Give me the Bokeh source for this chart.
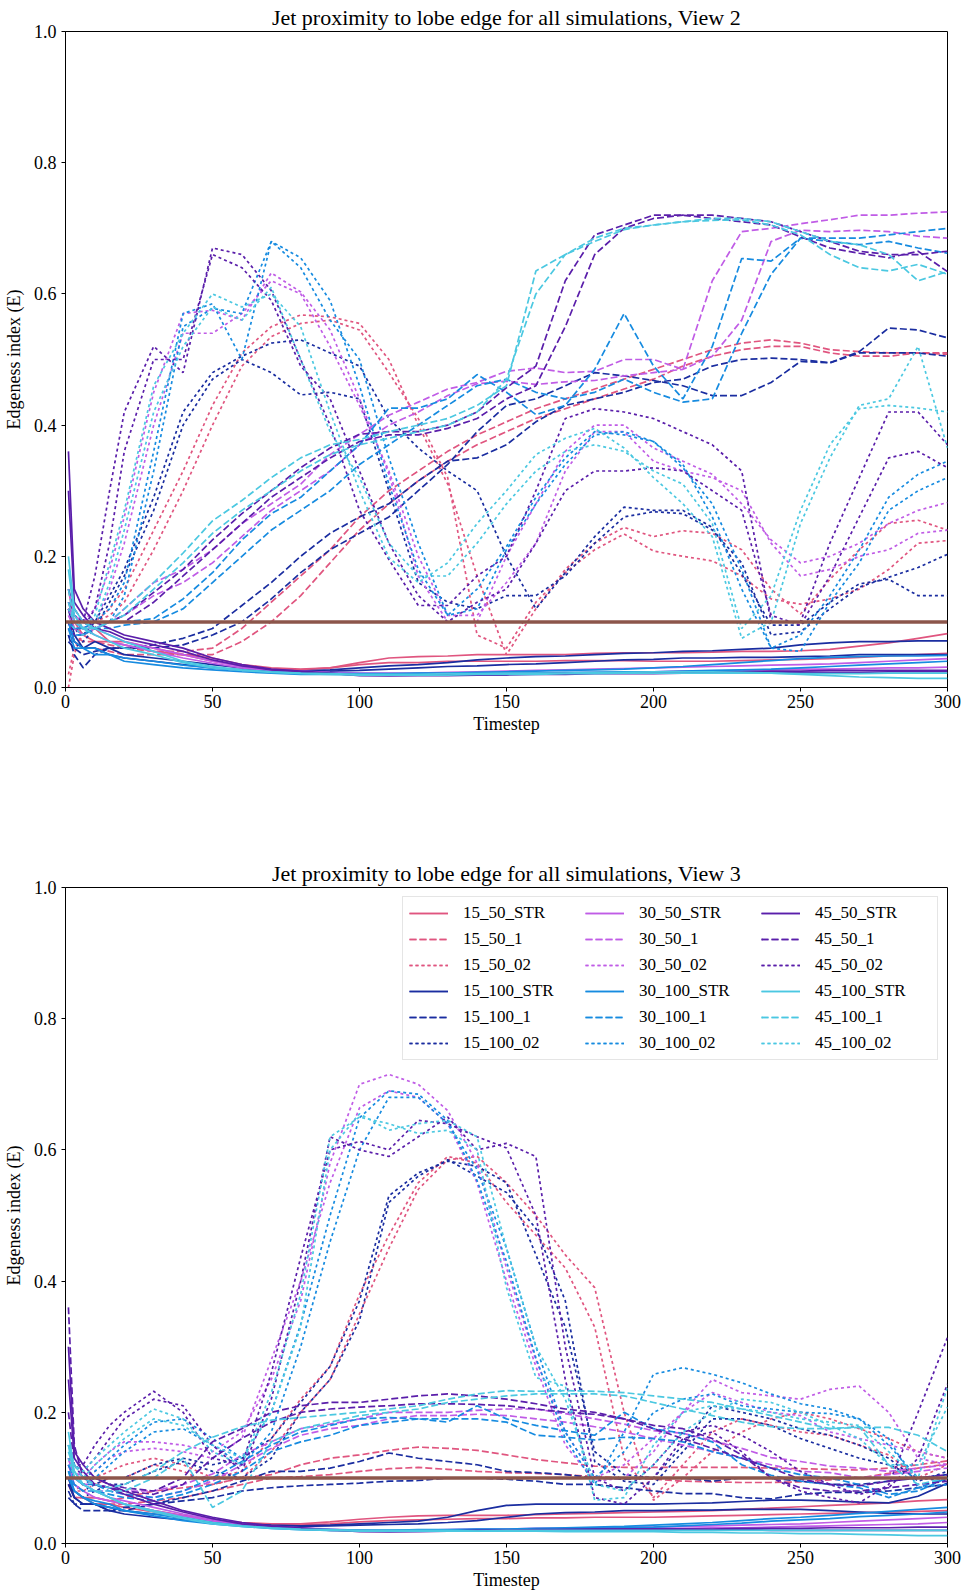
from bokeh.plotting import figure
from bokeh.layouts import column
from bokeh.models import Range1d, FixedTicker, PrintfTickFormatter, Span, Legend, LegendItem
from bokeh.embed import file_html
from bokeh.resources import INLINE

# ---------------- data ----------------
T = [1, 3, 6, 10, 15, 20,
     30, 40, 50, 60, 70, 80, 90, 100,
     110, 120, 130, 140, 150, 160, 170, 180, 190, 200,
     210, 220, 230, 240, 250, 260, 270, 280, 290, 300]

X_TICKS = [0, 50, 100, 150, 200, 250, 300]
Y_TICKS = [0.0, 0.2, 0.4, 0.6, 0.8, 1.0]
THRESHOLD = 0.1

TITLES = ["Jet proximity to lobe edge for all simulations, View 2",
          "Jet proximity to lobe edge for all simulations, View 3"]
X_LABEL = "Timestep"
Y_LABEL = "Edgeness index (E)"

SIMS = ["15_50", "15_100", "30_50", "30_100", "45_50", "45_100"]
VARIANTS = ["STR", "1", "02"]

# ----- View 2 (two jets per simulation: A and B) -----
V2_15_50_STR_A = [0.15,0.10,0.08,0.09,0.07,0.07, 0.06,0.05,0.045,0.035,0.03,0.028,0.03,0.038, 0.045,0.047,0.048,0.05,0.05,0.05,0.05,0.052,0.053,0.053, 0.053,0.054,0.055,0.055,0.056,0.058,0.063,0.068,0.075,0.082]
V2_15_50_STR_B = [0.12,0.09,0.08,0.07,0.07,0.065, 0.055,0.05,0.04,0.033,0.028,0.027,0.03,0.035, 0.038,0.038,0.04,0.04,0.04,0.04,0.041,0.041,0.041,0.04, 0.04,0.04,0.041,0.042,0.043,0.044,0.046,0.048,0.05,0.052]
V2_15_50_1_A = [0.1,0.08,0.07,0.07,0.065,0.06, 0.055,0.055,0.06,0.09,0.13,0.17,0.21,0.26, 0.3,0.33,0.36,0.385,0.405,0.425,0.44,0.455,0.47,0.485, 0.5,0.515,0.525,0.53,0.525,0.515,0.512,0.51,0.51,0.508]
V2_15_50_1_B = [0.09,0.07,0.06,0.06,0.055,0.05, 0.05,0.05,0.05,0.07,0.1,0.14,0.19,0.24, 0.28,0.315,0.345,0.37,0.39,0.41,0.425,0.44,0.455,0.47, 0.49,0.505,0.515,0.52,0.52,0.51,0.505,0.505,0.51,0.51]
V2_15_50_02_A = [0.0,0.05,0.09,0.1,0.12,0.15, 0.24,0.33,0.43,0.51,0.55,0.568,0.565,0.555, 0.5,0.4,0.31,0.17,0.05,0.12,0.18,0.22,0.244,0.23, 0.239,0.235,0.21,0.15,0.112,0.165,0.21,0.25,0.255,0.24]
V2_15_50_02_B = [0.02,0.06,0.08,0.1,0.11,0.13, 0.21,0.3,0.4,0.49,0.535,0.555,0.56,0.545, 0.48,0.41,0.32,0.08,0.06,0.13,0.175,0.21,0.234,0.208, 0.2,0.193,0.17,0.135,0.127,0.135,0.15,0.18,0.22,0.224]
V2_15_100_STR_A = [0.12,0.08,0.06,0.07,0.06,0.05, 0.045,0.04,0.035,0.03,0.027,0.025,0.027,0.03, 0.033,0.035,0.038,0.042,0.045,0.047,0.048,0.05,0.052,0.053, 0.055,0.056,0.058,0.06,0.065,0.068,0.07,0.07,0.071,0.071]
V2_15_100_STR_B = [0.1,0.07,0.06,0.06,0.05,0.045, 0.04,0.035,0.03,0.027,0.025,0.024,0.025,0.026, 0.028,0.03,0.032,0.033,0.035,0.036,0.038,0.04,0.042,0.043, 0.045,0.045,0.046,0.046,0.047,0.048,0.05,0.05,0.05,0.05]
V2_15_100_1_A = [0.08,0.05,0.03,0.05,0.06,0.06, 0.065,0.075,0.09,0.125,0.16,0.2,0.235,0.26, 0.28,0.315,0.345,0.35,0.37,0.405,0.43,0.44,0.45,0.465, 0.47,0.49,0.5,0.502,0.5,0.495,0.512,0.548,0.545,0.533]
V2_15_100_1_B = [0.07,0.06,0.05,0.055,0.06,0.06, 0.06,0.065,0.08,0.1,0.135,0.175,0.21,0.235, 0.26,0.3,0.34,0.39,0.43,0.44,0.46,0.48,0.475,0.468, 0.46,0.445,0.445,0.465,0.497,0.495,0.51,0.51,0.51,0.505]
V2_15_100_02_A = [0.1,0.08,0.08,0.1,0.14,0.18, 0.29,0.42,0.48,0.505,0.525,0.53,0.51,0.49, 0.41,0.365,0.33,0.3,0.2,0.12,0.175,0.23,0.275,0.27, 0.27,0.244,0.173,0.095,0.095,0.13,0.158,0.165,0.14,0.14]
V2_15_100_02_B = [0.08,0.06,0.07,0.09,0.13,0.17, 0.27,0.4,0.47,0.5,0.48,0.446,0.45,0.44, 0.3,0.16,0.13,0.12,0.14,0.14,0.17,0.22,0.26,0.268, 0.265,0.24,0.19,0.08,0.085,0.12,0.153,0.168,0.183,0.203]
V2_30_50_STR_A = [0.15,0.11,0.1,0.09,0.08,0.07, 0.06,0.05,0.04,0.032,0.027,0.025,0.023,0.022, 0.022,0.022,0.023,0.024,0.025,0.026,0.027,0.028,0.029,0.03, 0.031,0.032,0.033,0.034,0.035,0.036,0.038,0.04,0.042,0.044]
V2_30_50_STR_B = [0.13,0.1,0.09,0.08,0.07,0.065, 0.055,0.045,0.037,0.03,0.026,0.024,0.022,0.021, 0.021,0.02,0.02,0.021,0.022,0.022,0.022,0.023,0.024,0.024, 0.025,0.025,0.026,0.027,0.028,0.028,0.029,0.03,0.03,0.031]
V2_30_50_1_A = [0.12,0.1,0.09,0.09,0.1,0.12, 0.16,0.18,0.21,0.25,0.28,0.31,0.355,0.386, 0.415,0.435,0.455,0.465,0.482,0.487,0.48,0.482,0.5,0.5, 0.485,0.62,0.695,0.7,0.707,0.713,0.72,0.72,0.723,0.725]
V2_30_50_1_B = [0.11,0.09,0.08,0.09,0.1,0.11, 0.14,0.16,0.19,0.23,0.27,0.3,0.33,0.37, 0.4,0.42,0.445,0.463,0.467,0.462,0.466,0.468,0.475,0.48, 0.485,0.505,0.56,0.68,0.697,0.695,0.697,0.695,0.688,0.685]
V2_30_50_02_A = [0.12,0.1,0.1,0.12,0.18,0.26, 0.45,0.57,0.575,0.56,0.632,0.603,0.545,0.44, 0.325,0.17,0.1,0.1,0.2,0.28,0.36,0.4,0.4,0.365, 0.345,0.325,0.28,0.225,0.19,0.2,0.22,0.25,0.27,0.282]
V2_30_50_02_B = [0.1,0.09,0.09,0.1,0.15,0.22, 0.4,0.54,0.54,0.57,0.62,0.6,0.52,0.43, 0.33,0.2,0.11,0.11,0.16,0.22,0.33,0.39,0.39,0.345, 0.33,0.32,0.3,0.22,0.17,0.18,0.2,0.21,0.235,0.24]
V2_30_100_STR_A = [0.1,0.07,0.06,0.06,0.05,0.045, 0.04,0.034,0.03,0.026,0.024,0.022,0.021,0.021, 0.021,0.022,0.022,0.023,0.024,0.025,0.026,0.027,0.028,0.03, 0.032,0.035,0.038,0.041,0.044,0.046,0.047,0.048,0.048,0.049]
V2_30_100_STR_B = [0.09,0.06,0.06,0.05,0.05,0.04, 0.035,0.03,0.027,0.024,0.022,0.02,0.02,0.02, 0.02,0.021,0.021,0.022,0.022,0.022,0.023,0.023,0.024,0.024, 0.025,0.026,0.027,0.028,0.03,0.032,0.034,0.036,0.038,0.04]
V2_30_100_1_A = [0.1,0.09,0.09,0.1,0.1,0.1, 0.105,0.135,0.175,0.225,0.265,0.29,0.33,0.37, 0.426,0.426,0.44,0.477,0.45,0.416,0.43,0.485,0.57,0.49, 0.44,0.52,0.654,0.65,0.685,0.685,0.685,0.69,0.695,0.7]
V2_30_100_1_B = [0.09,0.08,0.08,0.09,0.09,0.095, 0.1,0.12,0.16,0.2,0.24,0.27,0.3,0.34, 0.37,0.4,0.43,0.46,0.47,0.45,0.44,0.45,0.47,0.45, 0.435,0.44,0.54,0.63,0.685,0.68,0.675,0.68,0.67,0.662]
V2_30_100_02_A = [0.1,0.09,0.09,0.1,0.12,0.16, 0.36,0.57,0.585,0.5,0.68,0.655,0.59,0.46, 0.31,0.18,0.11,0.15,0.215,0.29,0.35,0.39,0.385,0.375, 0.335,0.28,0.18,0.06,0.08,0.14,0.21,0.29,0.325,0.345]
V2_30_100_02_B = [0.09,0.08,0.08,0.09,0.1,0.14, 0.33,0.55,0.578,0.57,0.68,0.64,0.56,0.5, 0.35,0.22,0.11,0.12,0.21,0.28,0.34,0.385,0.39,0.375, 0.34,0.26,0.15,0.06,0.055,0.13,0.19,0.27,0.3,0.32]
V2_45_50_STR_A = [0.36,0.15,0.12,0.1,0.09,0.08, 0.07,0.06,0.045,0.035,0.028,0.025,0.022,0.018, 0.018,0.019,0.02,0.02,0.021,0.021,0.022,0.022,0.022,0.023, 0.023,0.024,0.024,0.025,0.025,0.026,0.026,0.026,0.026,0.026]
V2_45_50_STR_B = [0.3,0.13,0.11,0.09,0.085,0.075, 0.065,0.055,0.042,0.033,0.027,0.024,0.021,0.019, 0.018,0.018,0.018,0.019,0.019,0.02,0.02,0.021,0.021,0.021, 0.022,0.022,0.022,0.022,0.023,0.023,0.023,0.024,0.024,0.024]
V2_45_50_1_A = [0.15,0.12,0.1,0.1,0.1,0.11, 0.145,0.18,0.225,0.265,0.3,0.335,0.365,0.386, 0.39,0.39,0.4,0.42,0.457,0.49,0.62,0.69,0.705,0.72, 0.72,0.715,0.71,0.705,0.687,0.67,0.662,0.655,0.665,0.634]
V2_45_50_1_B = [0.13,0.11,0.1,0.1,0.1,0.1, 0.13,0.17,0.21,0.25,0.29,0.32,0.35,0.375, 0.385,0.385,0.395,0.41,0.44,0.46,0.55,0.66,0.7,0.715, 0.72,0.72,0.715,0.71,0.695,0.68,0.665,0.66,0.66,0.665]
V2_45_50_02_A = [0.1,0.08,0.1,0.17,0.3,0.42, 0.52,0.48,0.67,0.66,0.605,0.5,0.4,0.27, 0.195,0.125,0.125,0.17,0.2,0.3,0.41,0.425,0.42,0.41, 0.39,0.37,0.33,0.1,0.1,0.22,0.32,0.42,0.42,0.37]
V2_45_50_02_B = [0.12,0.1,0.09,0.12,0.22,0.36, 0.5,0.5,0.66,0.64,0.59,0.49,0.44,0.33, 0.22,0.14,0.1,0.13,0.15,0.22,0.3,0.33,0.33,0.335, 0.33,0.3,0.27,0.11,0.095,0.17,0.26,0.35,0.36,0.335]
V2_45_100_STR_A = [0.2,0.12,0.1,0.09,0.08,0.07, 0.055,0.04,0.032,0.027,0.024,0.022,0.021,0.02, 0.02,0.02,0.021,0.021,0.022,0.022,0.022,0.023,0.023,0.024, 0.024,0.024,0.023,0.022,0.02,0.018,0.016,0.015,0.014,0.014]
V2_45_100_STR_B = [0.18,0.11,0.09,0.08,0.07,0.06, 0.05,0.038,0.03,0.026,0.023,0.021,0.02,0.019, 0.019,0.019,0.019,0.02,0.02,0.02,0.021,0.021,0.022,0.022, 0.022,0.022,0.022,0.022,0.021,0.021,0.021,0.022,0.022,0.022]
V2_45_100_1_A = [0.15,0.1,0.09,0.09,0.1,0.12, 0.16,0.205,0.254,0.285,0.32,0.35,0.37,0.378, 0.39,0.4,0.41,0.43,0.46,0.635,0.66,0.68,0.698,0.705, 0.71,0.712,0.713,0.705,0.69,0.66,0.64,0.635,0.645,0.63]
V2_45_100_1_B = [0.13,0.1,0.09,0.09,0.1,0.11, 0.15,0.19,0.235,0.27,0.3,0.33,0.355,0.37, 0.38,0.39,0.4,0.42,0.47,0.6,0.66,0.685,0.7,0.705, 0.71,0.715,0.715,0.71,0.695,0.68,0.675,0.66,0.62,0.634]
V2_45_100_02_A = [0.12,0.1,0.09,0.11,0.19,0.27, 0.46,0.54,0.6,0.58,0.6,0.55,0.42,0.3, 0.198,0.16,0.19,0.25,0.3,0.355,0.38,0.395,0.365,0.32, 0.28,0.23,0.075,0.1,0.25,0.35,0.43,0.44,0.52,0.365]
V2_45_100_02_B = [0.1,0.09,0.08,0.1,0.16,0.24, 0.42,0.52,0.58,0.56,0.61,0.5,0.39,0.32, 0.22,0.17,0.17,0.22,0.28,0.33,0.36,0.37,0.36,0.33, 0.31,0.25,0.09,0.14,0.27,0.37,0.425,0.43,0.426,0.42]

# ----- View 3 -----
V3_15_50_STR_A = [0.1,0.08,0.07,0.07,0.065,0.06, 0.05,0.043,0.036,0.032,0.03,0.03,0.033,0.037, 0.04,0.042,0.043,0.043,0.043,0.044,0.045,0.046,0.047,0.048, 0.049,0.05,0.052,0.054,0.056,0.058,0.06,0.062,0.065,0.067]
V3_15_50_STR_B = [0.09,0.07,0.07,0.06,0.06,0.055, 0.048,0.04,0.034,0.03,0.028,0.028,0.03,0.033, 0.035,0.036,0.037,0.038,0.038,0.039,0.039,0.04,0.04,0.04, 0.041,0.042,0.043,0.044,0.045,0.046,0.047,0.048,0.049,0.05]
V3_15_50_1_A = [0.1,0.08,0.07,0.07,0.065,0.07, 0.08,0.085,0.09,0.1,0.105,0.12,0.13,0.135, 0.142,0.147,0.145,0.142,0.135,0.128,0.123,0.118,0.116,0.116, 0.116,0.116,0.116,0.115,0.114,0.113,0.112,0.115,0.12,0.126]
V3_15_50_1_B = [0.09,0.07,0.07,0.06,0.06,0.06, 0.065,0.07,0.08,0.09,0.1,0.102,0.105,0.11, 0.114,0.116,0.113,0.11,0.108,0.107,0.105,0.102,0.1,0.098, 0.095,0.094,0.093,0.093,0.094,0.097,0.1,0.107,0.115,0.121]
V3_15_50_02_A = [0.1,0.08,0.09,0.1,0.11,0.12, 0.13,0.12,0.1,0.11,0.16,0.22,0.27,0.38, 0.47,0.55,0.59,0.58,0.52,0.47,0.42,0.33,0.13,0.07, 0.12,0.17,0.19,0.18,0.17,0.165,0.15,0.135,0.1,0.12]
V3_15_50_02_B = [0.09,0.08,0.08,0.09,0.1,0.1, 0.12,0.11,0.09,0.1,0.14,0.2,0.25,0.35, 0.45,0.54,0.585,0.59,0.55,0.5,0.44,0.39,0.2,0.066, 0.1,0.14,0.17,0.19,0.2,0.19,0.175,0.16,0.14,0.13]
V3_15_100_STR_A = [0.1,0.07,0.06,0.06,0.055,0.05, 0.045,0.04,0.035,0.03,0.028,0.027,0.028,0.03, 0.032,0.034,0.04,0.05,0.058,0.06,0.06,0.06,0.06,0.06, 0.061,0.062,0.064,0.066,0.066,0.065,0.063,0.062,0.072,0.092]
V3_15_100_STR_B = [0.09,0.07,0.06,0.06,0.05,0.045, 0.04,0.036,0.032,0.028,0.026,0.026,0.027,0.028, 0.029,0.03,0.032,0.035,0.04,0.045,0.047,0.048,0.05,0.05, 0.051,0.051,0.052,0.052,0.052,0.05,0.048,0.046,0.045,0.045]
V3_15_100_1_A = [0.08,0.06,0.06,0.06,0.05,0.05, 0.06,0.065,0.07,0.08,0.085,0.088,0.09,0.092, 0.095,0.096,0.1,0.1,0.098,0.095,0.09,0.09,0.085,0.08, 0.076,0.076,0.07,0.068,0.075,0.078,0.078,0.08,0.085,0.09]
V3_15_100_1_B = [0.07,0.06,0.05,0.05,0.05,0.055, 0.06,0.07,0.08,0.095,0.11,0.11,0.115,0.125, 0.138,0.13,0.125,0.12,0.11,0.108,0.105,0.1,0.098,0.1, 0.1,0.095,0.1,0.1,0.095,0.09,0.09,0.095,0.1,0.105]
V3_15_100_02_A = [0.1,0.09,0.08,0.09,0.1,0.1, 0.12,0.13,0.12,0.13,0.16,0.215,0.27,0.37, 0.53,0.565,0.583,0.575,0.55,0.44,0.33,0.14,0.105,0.1, 0.15,0.21,0.2,0.19,0.175,0.165,0.15,0.13,0.095,0.11]
V3_15_100_02_B = [0.09,0.08,0.07,0.08,0.09,0.09, 0.11,0.125,0.11,0.1,0.13,0.2,0.25,0.34, 0.52,0.56,0.585,0.56,0.535,0.48,0.37,0.125,0.095,0.09, 0.14,0.19,0.19,0.18,0.16,0.145,0.13,0.12,0.1,0.095]
V3_30_50_STR_A = [0.13,0.1,0.09,0.08,0.07,0.065, 0.055,0.045,0.036,0.03,0.026,0.024,0.022,0.02, 0.02,0.02,0.021,0.022,0.022,0.023,0.023,0.024,0.025,0.025, 0.026,0.027,0.028,0.029,0.03,0.032,0.034,0.036,0.038,0.04]
V3_30_50_STR_B = [0.12,0.09,0.08,0.07,0.065,0.06, 0.05,0.042,0.034,0.028,0.025,0.023,0.021,0.02, 0.019,0.019,0.02,0.02,0.021,0.021,0.022,0.022,0.022,0.023, 0.023,0.024,0.024,0.025,0.026,0.027,0.028,0.029,0.03,0.032]
V3_30_50_1_A = [0.13,0.1,0.09,0.09,0.085,0.08, 0.08,0.09,0.106,0.135,0.155,0.175,0.182,0.19, 0.2,0.2,0.2,0.203,0.205,0.205,0.198,0.19,0.182,0.172, 0.168,0.157,0.145,0.131,0.125,0.118,0.115,0.11,0.115,0.12]
V3_30_50_1_B = [0.12,0.1,0.09,0.08,0.08,0.075, 0.07,0.08,0.095,0.12,0.145,0.165,0.175,0.18, 0.19,0.195,0.195,0.197,0.195,0.19,0.185,0.178,0.17,0.16, 0.15,0.14,0.13,0.12,0.11,0.108,0.1,0.105,0.11,0.115]
V3_30_50_02_A = [0.13,0.11,0.1,0.12,0.14,0.155, 0.155,0.15,0.14,0.17,0.25,0.37,0.58,0.7, 0.715,0.7,0.66,0.58,0.42,0.28,0.17,0.1,0.12,0.16, 0.2,0.25,0.23,0.225,0.22,0.235,0.24,0.2,0.13,0.12]
V3_30_50_02_B = [0.12,0.1,0.1,0.11,0.13,0.14, 0.145,0.14,0.13,0.16,0.28,0.4,0.55,0.664, 0.69,0.68,0.64,0.55,0.4,0.27,0.15,0.095,0.1,0.14, 0.2,0.23,0.215,0.2,0.195,0.17,0.16,0.15,0.14,0.13]
V3_30_100_STR_A = [0.11,0.08,0.07,0.065,0.06,0.05, 0.045,0.038,0.032,0.027,0.024,0.022,0.021,0.02, 0.02,0.021,0.021,0.022,0.022,0.023,0.024,0.025,0.026,0.028, 0.03,0.032,0.035,0.038,0.04,0.043,0.046,0.049,0.052,0.055]
V3_30_100_STR_B = [0.1,0.08,0.07,0.06,0.055,0.05, 0.042,0.035,0.03,0.026,0.023,0.021,0.02,0.02, 0.02,0.02,0.02,0.021,0.021,0.022,0.022,0.023,0.024,0.025, 0.027,0.029,0.031,0.034,0.036,0.038,0.041,0.043,0.045,0.048]
V3_30_100_1_A = [0.12,0.1,0.09,0.09,0.08,0.075, 0.07,0.08,0.1,0.125,0.15,0.17,0.18,0.19, 0.192,0.19,0.185,0.21,0.19,0.18,0.172,0.165,0.2,0.175, 0.168,0.155,0.12,0.104,0.095,0.09,0.085,0.07,0.085,0.1]
V3_30_100_1_B = [0.11,0.09,0.08,0.08,0.075,0.07, 0.065,0.075,0.09,0.11,0.14,0.155,0.165,0.18, 0.185,0.19,0.19,0.19,0.185,0.165,0.162,0.158,0.162,0.16, 0.155,0.14,0.13,0.115,0.105,0.1,0.09,0.075,0.08,0.1]
V3_30_100_02_A = [0.12,0.1,0.1,0.11,0.13,0.15, 0.185,0.19,0.16,0.13,0.2,0.334,0.5,0.649, 0.69,0.685,0.645,0.553,0.43,0.283,0.16,0.09,0.17,0.258, 0.268,0.258,0.245,0.228,0.213,0.205,0.19,0.16,0.085,0.09]
V3_30_100_02_B = [0.11,0.1,0.09,0.1,0.12,0.14, 0.17,0.175,0.15,0.12,0.17,0.3,0.46,0.6, 0.68,0.68,0.64,0.57,0.45,0.3,0.17,0.1,0.14,0.2, 0.22,0.228,0.21,0.205,0.2,0.198,0.19,0.15,0.1,0.1]
V3_45_50_STR_A = [0.3,0.14,0.12,0.1,0.09,0.08, 0.065,0.05,0.04,0.032,0.027,0.024,0.021,0.018, 0.018,0.019,0.019,0.02,0.02,0.021,0.021,0.022,0.022,0.022, 0.022,0.021,0.021,0.02,0.02,0.02,0.02,0.02,0.02,0.02]
V3_45_50_STR_B = [0.25,0.13,0.11,0.09,0.085,0.075, 0.06,0.048,0.038,0.03,0.026,0.023,0.02,0.019, 0.018,0.018,0.019,0.019,0.02,0.02,0.021,0.021,0.022,0.022, 0.022,0.022,0.023,0.023,0.023,0.024,0.024,0.024,0.025,0.025]
V3_45_50_1_A = [0.36,0.15,0.1,0.1,0.09,0.085, 0.08,0.1,0.155,0.175,0.2,0.21,0.215,0.215, 0.22,0.225,0.228,0.225,0.22,0.213,0.205,0.2,0.19,0.18, 0.175,0.16,0.135,0.1,0.085,0.08,0.08,0.085,0.09,0.095]
V3_45_50_1_B = [0.2,0.12,0.1,0.09,0.085,0.08, 0.075,0.09,0.13,0.16,0.185,0.2,0.205,0.208, 0.21,0.213,0.213,0.212,0.21,0.205,0.2,0.197,0.19,0.175, 0.16,0.145,0.13,0.115,0.098,0.09,0.088,0.095,0.1,0.105]
V3_45_50_02_A = [0.15,0.12,0.12,0.15,0.18,0.2, 0.232,0.2,0.13,0.12,0.26,0.436,0.6,0.613, 0.6,0.645,0.64,0.62,0.603,0.5,0.25,0.07,0.06,0.1, 0.16,0.17,0.14,0.1,0.08,0.07,0.062,0.09,0.2,0.314]
V3_45_50_02_B = [0.13,0.12,0.11,0.13,0.16,0.19, 0.22,0.21,0.15,0.11,0.22,0.4,0.62,0.6, 0.59,0.62,0.65,0.6,0.61,0.59,0.3,0.1,0.08,0.12, 0.17,0.18,0.165,0.14,0.11,0.09,0.075,0.085,0.13,0.243]
V3_45_100_STR_A = [0.17,0.11,0.09,0.08,0.07,0.06, 0.05,0.04,0.032,0.027,0.024,0.022,0.021,0.02, 0.02,0.02,0.02,0.019,0.019,0.019,0.018,0.018,0.018,0.018, 0.017,0.017,0.016,0.016,0.015,0.015,0.014,0.013,0.012,0.012]
V3_45_100_STR_B = [0.15,0.1,0.09,0.08,0.07,0.06, 0.048,0.038,0.03,0.026,0.023,0.021,0.02,0.019, 0.019,0.019,0.019,0.019,0.02,0.02,0.02,0.02,0.02,0.02, 0.02,0.02,0.02,0.02,0.02,0.02,0.02,0.02,0.02,0.02]
V3_45_100_1_A = [0.15,0.12,0.1,0.09,0.085,0.09, 0.11,0.14,0.162,0.178,0.188,0.192,0.196,0.2, 0.205,0.21,0.22,0.228,0.233,0.232,0.233,0.232,0.23,0.225, 0.22,0.215,0.205,0.195,0.185,0.175,0.177,0.177,0.165,0.14]
V3_45_100_1_B = [0.14,0.11,0.09,0.08,0.08,0.08, 0.1,0.13,0.055,0.08,0.155,0.175,0.185,0.195, 0.2,0.205,0.215,0.22,0.225,0.228,0.228,0.228,0.225,0.215, 0.205,0.195,0.185,0.178,0.175,0.175,0.178,0.12,0.09,0.1]
V3_45_100_02_A = [0.15,0.12,0.11,0.13,0.15,0.17, 0.205,0.19,0.14,0.12,0.23,0.38,0.62,0.65, 0.64,0.625,0.63,0.6,0.39,0.253,0.24,0.066,0.07,0.15, 0.2,0.21,0.205,0.2,0.19,0.185,0.18,0.14,0.1,0.238]
V3_45_100_02_B = [0.13,0.1,0.1,0.12,0.14,0.16, 0.19,0.18,0.15,0.13,0.2,0.33,0.6,0.655, 0.63,0.64,0.645,0.62,0.45,0.3,0.22,0.09,0.08,0.12, 0.17,0.2,0.22,0.215,0.2,0.18,0.16,0.12,0.12,0.208]

# ---------------- styles ----------------
COLORS = {"15_50": "#e0557f", "30_50": "#c05ce6", "45_50": "#5a1eaa",
          "15_100": "#1a2da0", "30_100": "#168be0", "45_100": "#4bc8e1"}
DASHES = {"STR": "solid", "1": "7 3", "02": "3 3"}
SERIF = "Liberation Serif"


def series(prefix, sim, var, jet):
    return globals()[f"{prefix}_{sim}_{var}_{jet}"]


def make_panel(prefix, title, height, border_top, border_bottom, with_legend):
    p = figure(width=964, height=height, output_backend="svg", toolbar_location=None,
               x_range=Range1d(0, 300), y_range=Range1d(0, 1.0),
               min_border_left=65, min_border_right=17,
               min_border_top=border_top, min_border_bottom=border_bottom,
               title=title)
    p.title.text_font = SERIF
    p.title.text_font_size = "22px"
    p.title.text_font_style = "normal"
    p.title.text_color = "black"
    p.title.align = "center"
    p.title.standoff = 4
    p.grid.visible = False
    p.outline_line_color = "black"
    p.outline_line_alpha = 1.0
    p.outline_line_width = 1
    p.background_fill_color = "white"
    p.border_fill_color = "white"

    p.xaxis.ticker = FixedTicker(ticks=X_TICKS)
    p.yaxis.ticker = FixedTicker(ticks=Y_TICKS)
    p.yaxis.formatter = PrintfTickFormatter(format="%.1f")
    p.xaxis.axis_label = X_LABEL
    p.yaxis.axis_label = Y_LABEL
    for ax in (p.xaxis[0], p.yaxis[0]):
        ax.axis_line_color = "black"
        ax.major_tick_line_color = "black"
        ax.major_tick_out = 4
        ax.major_tick_in = 0
        ax.minor_tick_line_color = None
        ax.major_label_text_font = SERIF
        ax.major_label_text_font_size = "18px"
        ax.major_label_text_color = "black"
        ax.axis_label_text_font = SERIF
        ax.axis_label_text_font_size = "18px"
        ax.axis_label_text_font_style = "normal"
        ax.axis_label_text_color = "black"
    p.xaxis.major_label_standoff = 3
    p.xaxis.axis_label_standoff = 3
    p.yaxis.major_label_standoff = 5
    p.yaxis.axis_label_standoff = 7

    items = []
    for sim in SIMS:
        for var in VARIANTS:
            rs = []
            for jet in ("A", "B"):
                r = p.line(T, series(prefix, sim, var, jet), line_color=COLORS[sim],
                           line_width=1.7, line_dash=DASHES[var])
                rs.append(r)
            items.append(LegendItem(label=f"{sim}_{var}", renderers=rs))

    p.add_layout(Span(location=THRESHOLD, dimension="width",
                      line_color="#8c564b", line_width=3.5))

    if with_legend:
        lg = Legend(items=items, location="top_right", orientation="vertical",
                    nrows=6, ncols=3,
                    label_text_font=SERIF, label_text_font_size="17px",
                    label_text_color="black",
                    glyph_width=39, glyph_height=20, label_height=20,
                    label_width=116, label_standoff=15, spacing=6,
                    padding=6, margin=9,
                    border_line_color="#cccccc", border_line_width=1,
                    background_fill_color="white", background_fill_alpha=0.85)
        p.add_layout(lg)
    return p


p1 = make_panel("V2", TITLES[0], 856, 30, 169, False)
p2 = make_panel("V3", TITLES[1], 738, 30, 51, True)

layout = column(p1, p2, spacing=0)
open("out.html", "w").write(file_html(layout, INLINE))
